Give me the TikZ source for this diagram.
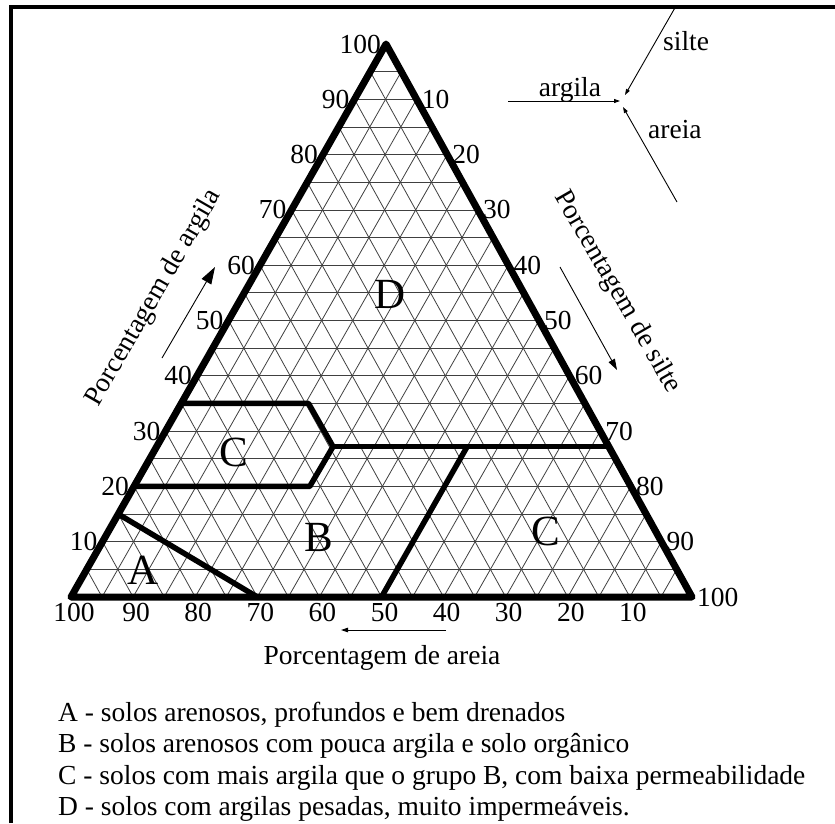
\documentclass[tikz,border=0pt]{standalone}
\usepackage{fontspec}
\setmainfont{Liberation Serif}
\usetikzlibrary{arrows.meta,positioning}
\tikzset{
  frame/.style={line width=4pt},
  tri/.style={line width=7pt, line join=round},
  zone/.style={line width=5.5pt, line join=round},
  gridln/.style={line width=0.8pt, draw=black!75},
  axlbl/.style={font=\fontsize{27.5}{30}\selectfont, inner sep=1pt},
  ttl/.style={font=\fontsize{27.5}{30}\selectfont, inner sep=0pt},
  zonelbl/.style={font=\fontsize{43}{46}\selectfont, inner sep=0pt},
  bigarr/.style={-{Triangle[length=17pt,width=11pt]}, line width=0.9pt},
  midarr/.style={-{Triangle[length=11pt,width=7pt]}, line width=0.9pt},
  smallarr/.style={-{Triangle[length=7pt,width=4.5pt]}, line width=0.9pt},
  tinyarr/.style={-{Triangle[length=6pt,width=4pt]}, line width=0.9pt}
}
\begin{document}
\begin{tikzpicture}[x=1pt, y=-1pt]
  \useasboundingbox (0,0) rectangle (835,823);
  \draw[frame] (11,823) -- (11,6.5) -- (835,6.5);

  % corners: T = argila, L = areia, R = silte (weights as fractions)
  \coordinate (T) at (386,44);
  \coordinate (L) at (71,597);
  \coordinate (R) at (692,597);

  % grid every 5%
  \foreach \k [evaluate=\k as \w using \k/100,
               evaluate=\k as \r using 1-\k/100] in {5,10,...,95} {
    \draw[gridln] (barycentric cs:T=\w,L=\r,R=0) -- (barycentric cs:T=\w,L=0,R=\r);
    \draw[gridln] (barycentric cs:T=0,L=\r,R=\w) -- (barycentric cs:T=\r,L=0,R=\w);
    \draw[gridln] (barycentric cs:T=0,L=\w,R=\r) -- (barycentric cs:T=\r,L=\w,R=0);
  }

  % zones
  \coordinate (a1) at (barycentric cs:T=0.15,L=0.85,R=0);
  \coordinate (a2) at (barycentric cs:T=0,L=0.70,R=0.30);
  \coordinate (c1) at (barycentric cs:T=0.35,L=0.65,R=0);
  \coordinate (c2) at (barycentric cs:T=0.35,L=0.445,R=0.205);
  \coordinate (c3) at (barycentric cs:T=0.272,L=0.444,R=0.284);
  \coordinate (c4) at (barycentric cs:T=0.20,L=0.517,R=0.283);
  \coordinate (c5) at (barycentric cs:T=0.20,L=0.80,R=0);
  \coordinate (d1) at (barycentric cs:T=0.272,L=0,R=0.728);
  \coordinate (e1) at (barycentric cs:T=0.272,L=0.228,R=0.50);
  \coordinate (e2) at (barycentric cs:T=0,L=0.50,R=0.50);
  \draw[zone] (a1) -- (a2);
  \draw[zone] (c1) -- (c2) -- (c3) -- (c4) -- (c5);
  \draw[zone] (c3) -- (d1);
  \draw[zone] (e1) -- (e2);
  \draw[tri] (L) -- (R) -- (T) -- cycle;

  \node[zonelbl] (zA) at (143,570) {A};
  \node[zonelbl] (zB) at (319,537) {B};
  \node[zonelbl] (zC1) at (234,452) {C};
  \node[zonelbl] (zC2) at (546,531) {C};
  \node[zonelbl] (zD) at (390,294) {D};

  % scales
  \foreach \v [evaluate=\v as \w using \v/100,
               evaluate=\v as \r using 1-\v/100] in {10,20,...,100} {
    \node[axlbl, anchor=east, xshift=-4pt] (cl\v) at (barycentric cs:T=\w,L=\r,R=0) {\v};
    \node[axlbl, anchor=west, xshift=4pt] (si\v) at (barycentric cs:T=\r,L=0,R=\w) {\v};
    \node[axlbl, anchor=north, xshift=3pt, yshift=-5pt] (sa\v) at (barycentric cs:T=0,L=\w,R=\r) {\v};
  }

  % axis titles
  \node[ttl, rotate=60] (ttlArg) at (154,298) {Porcentagem de argila};
  \node[ttl, rotate=-60] (ttlSil) at (617,292) {Porcentagem de silte};
  \node[ttl, anchor=base] (ttlAre) at (382,664) {Porcentagem de areia};
  \coordinate (argA) at (162,358);
  \coordinate (argB) at (215,267);
  \coordinate (silA) at (560,267);
  \coordinate (silB) at (617,370);
  \coordinate (areA) at (446,630);
  \coordinate (areB) at (341,630);
  \draw[bigarr] (argA) -- (argB);
  \draw[midarr] (silA) -- (silB);
  \draw[smallarr] (areA) -- (areB);

  % key
  \coordinate (kArgS) at (508,101);
  \coordinate (kArgE) at (620,101);
  \coordinate (kSilS) at (676,6);
  \coordinate (kSilE) at (625,95);
  \coordinate (kAreS) at (677,202);
  \coordinate (kAreE) at (623,107);
  \draw[tinyarr] (kArgS) -- (kArgE);
  \draw[tinyarr] (kSilS) -- (kSilE);
  \draw[tinyarr] (kAreS) -- (kAreE);
  \node[ttl, anchor=base] (kArg) at (570,96) {argila};
  \node[ttl, anchor=base west] (kSil) at (663,50) {silte};
  \node[ttl, anchor=base west] (kAre) at (648,138) {areia};

  % legend
  \node[ttl, anchor=base west] (legA) at (58,721) {A - solos arenosos, profundos e bem drenados};
  \node[ttl, anchor=base west] (legB) at ([yshift=-31.5pt]legA.base west) {B - solos arenosos com pouca argila e solo orgânico};
  \node[ttl, anchor=base west] (legC) at ([yshift=-31.5pt]legB.base west) {C - solos com mais argila que o grupo B, com baixa permeabilidade};
  \node[ttl, anchor=base west] (legD) at ([yshift=-31.5pt]legC.base west) {D - solos com argilas pesadas, muito impermeáveis.};
\end{tikzpicture}
\end{document}
